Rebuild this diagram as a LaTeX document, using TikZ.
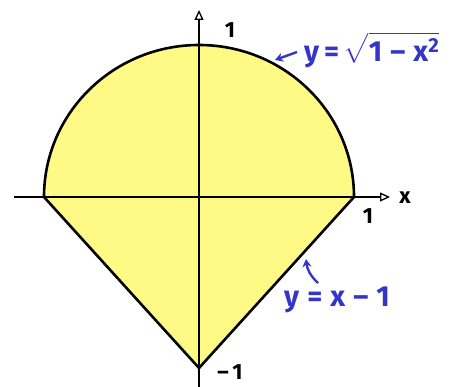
\documentclass[tikz,border=0pt]{standalone}
\usepackage{fontspec}
\usepackage{amsmath}
\setmainfont{Fira Sans}
\usetikzlibrary{arrows.meta}
\definecolor{fillyel}{HTML}{FFF985}
\definecolor{penblue}{HTML}{3535C8}
\tikzset{
  axis/.style={line width=1.3pt, -{Triangle[open,length=10pt,width=9pt]}},
  rim/.style={line width=2.6pt, line join=round},
  lab/.style={font=\fontsize{22}{24}\selectfont\bfseries, inner sep=0pt},
  bluelab/.style={text=penblue, font=\fontsize{29}{32}\selectfont\bfseries, inner sep=0pt},
  bluearrow/.style={penblue, line width=2.4pt, -{Stealth[length=8pt,width=9pt]}}
}
\begin{document}
\begin{tikzpicture}[x=1pt,y=-1pt]
\useasboundingbox (0,0) rectangle (468,387);
\coordinate (O) at (199,197);
\coordinate (L) at (44,197);
\coordinate (R) at (354,197);
\coordinate (B) at (199,368);
\fill[fillyel] (L) arc[start angle=180,end angle=0,x radius=155,y radius=-152] -- (B) -- cycle;
\draw[axis] (14,197) -- (390,197) coordinate (xend);
\draw[axis] (199,387) -- (199,10) coordinate (yend);
\draw[rim] (L) arc[start angle=180,end angle=0,x radius=155,y radius=-152] -- (B) -- cycle;
\draw[line width=1.3pt] (L) -- (R);
\node[lab] (xl) at (405,198) {x};
\node[lab] (one1) at (230,30) {1};
\node[lab] (oneR) at (368,216) {1};
\node[lab] (minus1) at (230,372) {–\,1};
\node[bluelab, anchor=west] (circlab) at (304,50) {y\,=\,$\sqrt{\text{\bfseries 1\;–\;x\textsuperscript{2}}}$};
\node[bluelab, anchor=west] (linelab) at (284,300) {y\;=\;x\;–\;1};
\coordinate (c1) at (297,52);
\coordinate (c2) at (275,60);
\draw[bluearrow] (c1) -- (c2);
\coordinate (d1) at (318,283);
\coordinate (d2) at (306,259);
\draw[bluearrow] (d1) to[bend left=20] (d2);
\end{tikzpicture}
\end{document}
